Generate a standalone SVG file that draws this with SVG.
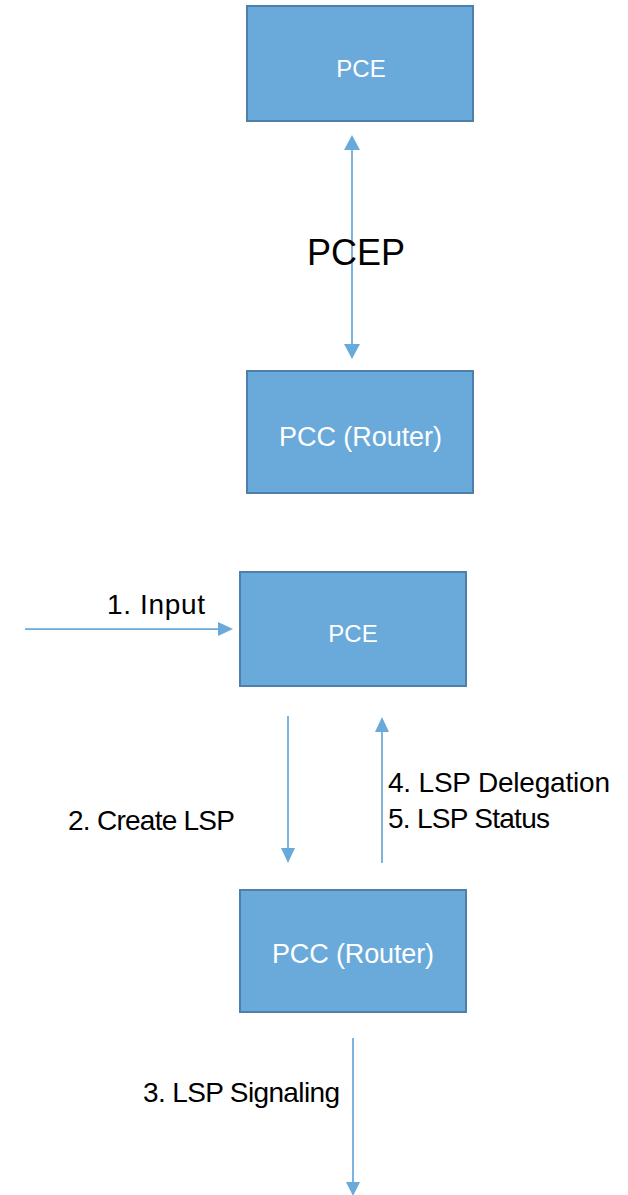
<svg xmlns="http://www.w3.org/2000/svg" width="628" height="1195" viewBox="0 0 628 1195">
  <style>
    .box { fill: #6aaadb; stroke: #4f80aa; stroke-width: 2; }
    .lbl { font-family: "Liberation Sans", Arial, sans-serif; font-size: 27px; fill: #ffffff; }
    .short { font-size: 24px; text-anchor: middle; }
    .txt { font-family: "Liberation Sans", Arial, sans-serif; font-size: 28px; fill: #000000; }
    .big { font-family: "Liberation Sans", Arial, sans-serif; font-size: 36px; fill: #000000; text-anchor: middle; }
    .wire { stroke: #6aaadb; stroke-width: 1.75; fill: none; }
    .head { fill: #6aaadb; stroke: none; }
  </style>

  <!-- Upper pair: PCE and PCC linked by PCEP -->
  <g id="pce-top">
    <rect class="box" x="247" y="6" width="226" height="115"/>
    <text class="lbl short" x="361" y="77">PCE</text>
  </g>
  <g id="pcc-top">
    <rect class="box" x="247" y="371" width="226" height="122"/>
    <text class="lbl" x="279" y="446" textLength="163">PCC (Router)</text>
  </g>

  <!-- Lower pair: workflow steps -->
  <g id="pce-bottom">
    <rect class="box" x="240" y="572" width="226" height="114"/>
    <text class="lbl short" x="353" y="642">PCE</text>
  </g>
  <g id="pcc-bottom">
    <rect class="box" x="240" y="890" width="226" height="122"/>
    <text class="lbl" x="272" y="963" textLength="162">PCC (Router)</text>
  </g>

  <g id="connectors">
    <!-- PCEP session (bidirectional) -->
    <line class="wire" x1="352" y1="148" x2="352" y2="346"/>
    <polygon class="head" points="352,135 344,150 360,150"/>
    <polygon class="head" points="352,359 344,344 360,344"/>

    <!-- 1. Input -->
    <line class="wire" x1="25" y1="629" x2="220" y2="629"/>
    <polygon class="head" points="233,629 218,622 218,636"/>

    <!-- 2. Create LSP -->
    <line class="wire" x1="288" y1="716" x2="288" y2="850"/>
    <polygon class="head" points="288,863 281,848 295,848"/>

    <!-- 4/5. Delegation and status -->
    <line class="wire" x1="382" y1="863" x2="382" y2="730"/>
    <polygon class="head" points="382,717 375,732 389,732"/>

    <!-- 3. LSP Signaling -->
    <line class="wire" x1="353" y1="1038" x2="353" y2="1184"/>
    <polygon class="head" points="353,1196 346,1182 360,1182"/>
  </g>

  <g id="labels">
    <text class="big" x="356" y="265">PCEP</text>
    <text class="txt" x="107" y="614" textLength="98">1. Input</text>
    <text class="txt" x="68" y="830" textLength="167">2. Create LSP</text>
    <text class="txt" x="388" y="792" textLength="222">4. LSP Delegation</text>
    <text class="txt" x="388" y="828" textLength="162">5. LSP Status</text>
    <text class="txt" x="143" y="1102" textLength="197">3. LSP Signaling</text>
  </g>
</svg>
